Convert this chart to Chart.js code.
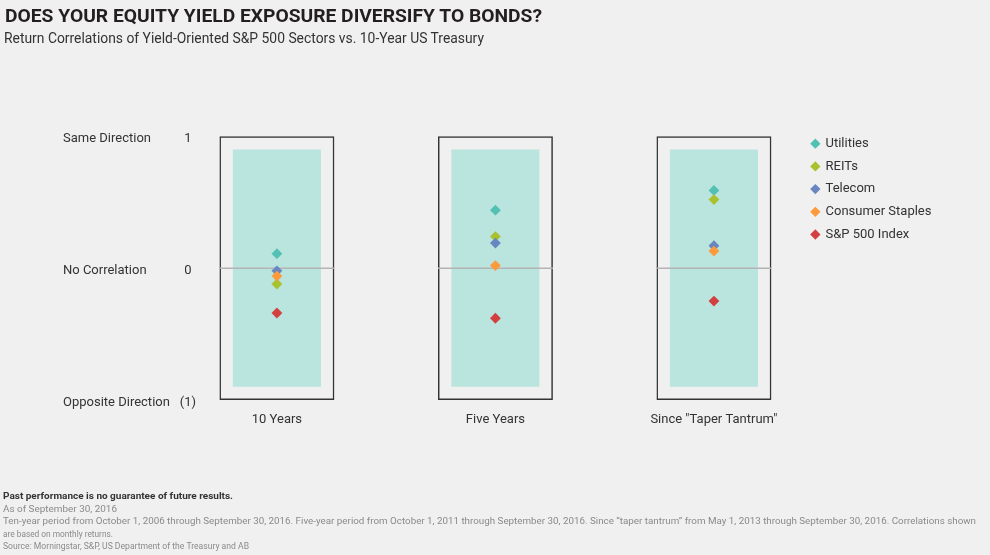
<!DOCTYPE html>
<html>
<head>
<meta charset="utf-8">
<title>Does Your Equity Yield Exposure Diversify to Bonds?</title>
<script src="https://cdn.jsdelivr.net/npm/chart.js@4.4.1/dist/chart.umd.min.js"></script>
<style>
  html, body { margin:0; padding:0; background:#f0f0f0; }
  #wrap { position:relative; width:990px; height:555px; overflow:hidden; background:#f0f0f0; font-family: Roboto, "Noto Sans", sans-serif; }
  #chart { position:absolute; left:0; top:0; }
  .txt { position:absolute; white-space:nowrap; transform-origin:0 0; }
  #title { left:5px; top:6.5px; font-size:18px; line-height:18px; font-weight:700; color:#231f20; }
  #subtitle { left:4px; top:30.7px; font-size:15px; line-height:15px; color:#333; }
  .note { left:3px; font-size:9px; line-height:12px; color:#8a8a8a; }
  .note.b { font-weight:700; color:#333; }
</style>
</head>
<body>
<div id="wrap">
  <canvas id="chart" width="990" height="555"></canvas>
  <div id="title" class="txt" data-w="537">DOES YOUR EQUITY YIELD EXPOSURE DIVERSIFY TO BONDS?</div>
  <div id="subtitle" class="txt" data-w="480">Return Correlations of Yield-Oriented S&amp;P 500 Sectors vs. 10-Year US Treasury</div>
  <div class="txt note b" style="top:490.4px" data-w="230">Past performance is no guarantee of future results.</div>
  <div class="txt note" style="top:503px" data-w="114">As of September 30, 2016</div>
  <div class="txt note" style="top:515.4px" data-w="973">Ten-year period from October 1, 2006 through September 30, 2016. Five-year period from October 1, 2011 through September 30, 2016. Since “taper tantrum” from May 1, 2013 through September 30, 2016. Correlations shown</div>
  <div class="txt note" style="top:527.7px" data-w="110">are based on monthly returns.</div>
  <div class="txt note" style="top:539.7px" data-w="246">Source: Morningstar, S&amp;P, US Department of the Treasury and AB</div>
</div>
<script>
// ---- data ----
const categories = ['10 Years', 'Five Years', 'Since "Taper Tantrum"'];
const seriesNames = ['Utilities', 'REITs', 'Telecom', 'Consumer Staples', 'S&P 500 Index'];
const utilities = [0.11, 0.44, 0.59];
const reits = [-0.12, 0.24, 0.52];
const telecom = [-0.02, 0.19, 0.17];
const consumerStaples = [-0.06, 0.02, 0.13];
const sp500 = [-0.34, -0.38, -0.25];
const yTickValues = [1, 0, -1];
const yTickLabels = ['1', '0', '(1)'];
const yTickNames = ['Same Direction', 'No Correlation', 'Opposite Direction'];
const frameRange = [-1, 1];
const bandRange = [-0.9, 0.9];

// ---- styles ----
const seriesColors = ['#52c0b3', '#a9c12f', '#6886c0', '#fd9a3b', '#d2403f'];
const seriesValues = [utilities, reits, telecom, consumerStaples, sp500];
const FONT = { family: 'Roboto', size: 13 };
const TEXT = '#333333';
const LEGEND_BOX_WIDTH = 188;

// fit header / footnote widths
document.querySelectorAll('[data-w]').forEach(el => {
  const w = el.getBoundingClientRect().width;
  el.style.transform = 'scaleX(' + (parseFloat(el.dataset.w) / w) + ')';
});

const pointSets = seriesNames.map((name, s) => ({
  type: 'line',
  label: name,
  data: categories.map((c, i) => ({ x: i, y: seriesValues[s][i] })),
  showLine: false,
  pointStyle: 'rectRot',
  pointRadius: 5.4,
  pointHoverRadius: 5.4,
  pointBorderWidth: 0,
  backgroundColor: seriesColors[s],
  borderColor: seriesColors[s],
  order: seriesNames.length - s,
  xAxisID: 'x',
  yAxisID: 'y'
}));

const bandSet = {
  type: 'bar',
  label: 'band',
  data: categories.map((c, i) => ({ x: i, y: bandRange })),
  backgroundColor: '#bae4de',
  borderWidth: 0,
  grouped: false,
  categoryPercentage: 1,
  barPercentage: 0.403,
  order: 20,
  xAxisID: 'x',
  yAxisID: 'y'
};

const frameSet = {
  type: 'bar',
  label: 'frame',
  data: categories.map((c, i) => ({ x: i, y: frameRange })),
  backgroundColor: 'rgba(0,0,0,0)',
  borderColor: '#333333',
  borderWidth: 1.5,
  borderSkipped: false,
  grouped: false,
  categoryPercentage: 1,
  barPercentage: 0.526,
  order: 19,
  xAxisID: 'x',
  yAxisID: 'y'
};

const zeroLinePlugin = {
  id: 'zeroLine',
  afterDatasetDraw(chart, args) {
    if (chart.data.datasets[args.index].label !== 'frame') return;
    const ctx = chart.ctx;
    const y0 = chart.scales.y.getPixelForValue(0);
    ctx.save();
    ctx.strokeStyle = '#b4b4b4';
    ctx.lineWidth = 1.5;
    args.meta.data.forEach(bar => {
      const p = bar.getProps(['x', 'width'], true);
      ctx.beginPath();
      ctx.moveTo(p.x - p.width / 2, y0);
      ctx.lineTo(p.x + p.width / 2, y0);
      ctx.stroke();
    });
    ctx.restore();
  }
};

// keep the right-hand legend box at a fixed width so the plot area is stable
const legendWidthPlugin = {
  id: 'legendWidth',
  beforeLayout(chart) {
    const lg = chart.legend;
    if (lg && !lg._fixedWidth) {
      const origFit = lg.fit.bind(lg);
      lg.fit = function () { origFit(); this.width = LEGEND_BOX_WIDTH; };
      lg._fixedWidth = true;
    }
  }
};

new Chart(document.getElementById('chart'), {
  type: 'bar',
  data: { datasets: [...pointSets, bandSet, frameSet] },
  plugins: [zeroLinePlugin, legendWidthPlugin],
  options: {
    responsive: false,
    animation: false,
    events: [],
    layout: { padding: { left: 63, top: 127.5, right: 0, bottom: 125 } },
    plugins: {
      tooltip: { enabled: false },
      title: { display: false },
      legend: {
        position: 'right',
        align: 'start',
        labels: {
          usePointStyle: true,
          boxWidth: 7.3,
          boxHeight: 7.3,
          padding: 9.7,
          color: TEXT,
          font: FONT,
          filter: item => item.datasetIndex < seriesNames.length,
          sort: (a, b) => a.datasetIndex - b.datasetIndex
        }
      }
    },
    scales: {
      x: {
        type: 'linear',
        position: 'bottom',
        offset: false,
        min: -0.352,
        max: 2.403,
        afterBuildTicks: s => { s.ticks = categories.map((c, i) => ({ value: i })); },
        afterFit: s => { s.height = 30; s.paddingLeft = 0; s.paddingRight = 0; },
        ticks: {
          callback: v => categories[v],
          padding: 12,
          color: TEXT,
          font: FONT,
          autoSkip: false,
          maxRotation: 0
        },
        grid: { display: false, drawTicks: false, offset: false },
        border: { display: false }
      },
      y: {
        type: 'linear',
        position: 'left',
        weight: 0,
        min: -1,
        max: 1.067,
        afterBuildTicks: s => { s.ticks = yTickValues.map(v => ({ value: v })); },
        afterFit: s => { s.width = 22; },
        ticks: {
          callback: v => yTickLabels[yTickValues.indexOf(v)],
          crossAlign: 'center',
          padding: 4,
          labelOffset: 2.5,
          color: TEXT,
          font: FONT,
          autoSkip: false
        },
        grid: { display: false, drawTicks: false },
        border: { display: false }
      },
      yDesc: {
        type: 'linear',
        position: 'left',
        weight: 1,
        min: -1,
        max: 1.067,
        afterBuildTicks: s => { s.ticks = yTickValues.map(v => ({ value: v })); },
        afterFit: s => { s.width = 115; },
        ticks: {
          callback: v => yTickNames[yTickValues.indexOf(v)],
          crossAlign: 'far',
          padding: 0,
          labelOffset: 2.5,
          color: TEXT,
          font: FONT,
          autoSkip: false
        },
        grid: { display: false, drawTicks: false },
        border: { display: false }
      }
    }
  }
});
</script>
</body>
</html>
